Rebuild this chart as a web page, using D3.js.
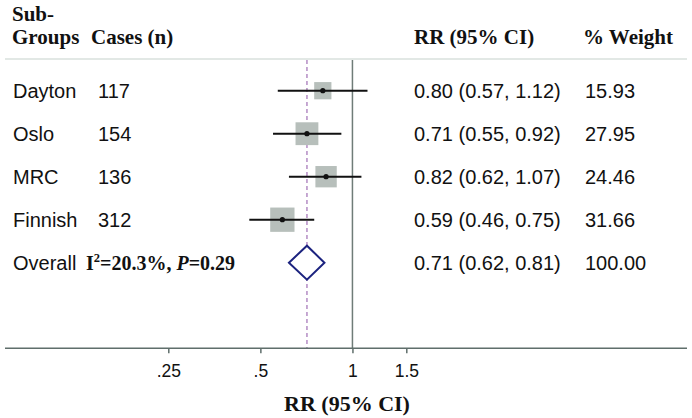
<!DOCTYPE html>
<html>
<head>
<meta charset="utf-8">
<script src="https://cdn.jsdelivr.net/npm/d3@7"></script>
<style>
  html, body { margin: 0; padding: 0; background: #fff; }
  svg { display: block; }
</style>
</head>
<body>
<svg id="chart" width="692" height="418"></svg>
<script>
// ---- data ----
const studies = ["Dayton", "Oslo", "MRC", "Finnish"];
const cases = ["117", "154", "136", "312"];
const rr = [0.80, 0.71, 0.82, 0.59];
const ciLow = [0.57, 0.55, 0.62, 0.46];
const ciHigh = [1.12, 0.92, 1.07, 0.75];
const weights = [15.93, 27.95, 24.46, 31.66];
const rrLabels = ["0.80 (0.57, 1.12)", "0.71 (0.55, 0.92)", "0.82 (0.62, 1.07)", "0.59 (0.46, 0.75)"];
const weightLabels = ["15.93", "27.95", "24.46", "31.66"];
const overallRR = 0.71, overallLow = 0.62, overallHigh = 0.81;
const overallLabel = "0.71 (0.62, 0.81)";
const overallWeight = "100.00";
const tickValues = [0.25, 0.5, 1, 1.5];
const tickLabels = [".25", ".5", "1", "1.5"];

// ---- layout ----
const svg = d3.select("#chart");
const x = d3.scaleLog().base(2).domain([0.25, 1.5]).range([168.3, 406.3]);
const y = d3.scaleLinear().domain([0, 4]).range([90.7, 262.7]);
const side = d3.scaleSqrt().domain([0, 31.66]).range([0, 24.3]);
const axisY = 348.3;
const plotTop = 60;
const serif = "'Liberation Serif', 'Times New Roman', serif";
const sans = "'Liberation Sans', Arial, sans-serif";
const txt = "#111";

// header
const hdr = svg.append("g").attr("font-family", serif).attr("font-weight", "bold")
  .attr("font-size", 21).attr("fill", txt);
hdr.append("text").attr("x", 12).attr("y", 21).text("Sub-");
hdr.append("text").attr("x", 12).attr("y", 44).text("Groups");
hdr.append("text").attr("x", 91).attr("y", 44).text("Cases (n)");
hdr.append("text").attr("x", 414).attr("y", 44).text("RR (95% CI)");
hdr.append("text").attr("x", 583).attr("y", 44).text("% Weight");

svg.append("line").attr("x1", 5).attr("x2", 687).attr("y1", 59).attr("y2", 59)
  .attr("stroke", "#d8e0dc").attr("stroke-width", 1.5);

// reference lines
svg.append("line").attr("x1", x(1)).attr("x2", x(1)).attr("y1", plotTop).attr("y2", axisY)
  .attr("stroke", "#6f7c78").attr("stroke-width", 1.5);
svg.append("line").attr("x1", x(overallRR)).attr("x2", x(overallRR)).attr("y1", plotTop).attr("y2", axisY)
  .attr("stroke", "#b48cc4").attr("stroke-width", 1.5).attr("stroke-dasharray", "4,3");

// study rows
const rows = svg.append("g");
studies.forEach((s, i) => {
  const cy = y(i);
  const w = side(weights[i]);
  rows.append("rect").attr("x", x(rr[i]) - w / 2).attr("y", cy - w / 2)
    .attr("width", w).attr("height", w).attr("fill", "#b7bfbb");
  rows.append("line").attr("x1", x(ciLow[i])).attr("x2", x(ciHigh[i]))
    .attr("y1", cy).attr("y2", cy).attr("stroke", "#111").attr("stroke-width", 2);
  rows.append("circle").attr("cx", x(rr[i])).attr("cy", cy).attr("r", 2.6).attr("fill", "#111");
  const g = rows.append("g").attr("font-family", sans).attr("font-size", 20).attr("fill", txt);
  g.append("text").attr("x", 13).attr("y", cy + 7.5).text(s);
  g.append("text").attr("x", 98).attr("y", cy + 7.5).text(cases[i]);
  g.append("text").attr("x", 414).attr("y", cy + 7.5).text(rrLabels[i]);
  g.append("text").attr("x", 585).attr("y", cy + 7.5).text(weightLabels[i]);
});

// overall
const oy = y(4);
const dh = 17;
svg.append("path")
  .attr("d", `M${x(overallLow)},${oy} L${x(overallRR)},${oy - dh} L${x(overallHigh)},${oy} L${x(overallRR)},${oy + dh} Z`)
  .attr("fill", "#fff").attr("stroke", "#1c237f").attr("stroke-width", 2);
const og = svg.append("g").attr("fill", txt);
og.append("text").attr("x", 13).attr("y", oy + 7.5).attr("font-family", sans).attr("font-size", 20).text("Overall");
const het = og.append("text").attr("x", 86).attr("y", oy + 7.5).attr("font-family", serif)
  .attr("font-weight", "bold").attr("font-size", 20);
het.append("tspan").text("I");
het.append("tspan").attr("font-size", 12.5).attr("dy", -8).text("2");
het.append("tspan").attr("dy", 8).text("=20.3%, ");
het.append("tspan").attr("font-style", "italic").text("P");
het.append("tspan").text("=0.29");
og.append("text").attr("x", 414).attr("y", oy + 7.5).attr("font-family", sans).attr("font-size", 20).text(overallLabel);
og.append("text").attr("x", 585).attr("y", oy + 7.5).attr("font-family", sans).attr("font-size", 20).text(overallWeight);

// axis
svg.append("line").attr("x1", 5).attr("x2", 687).attr("y1", axisY).attr("y2", axisY)
  .attr("stroke", "#5f6e6b").attr("stroke-width", 1.5);
const axis = d3.axisBottom(x).tickValues(tickValues).tickSize(5)
  .tickFormat((d, i) => tickLabels[i]);
const ag = svg.append("g").attr("transform", `translate(0,${axisY})`).call(axis)
  .attr("font-family", sans).attr("font-size", 17.5);
ag.select(".domain").remove();
ag.selectAll(".tick line").attr("stroke", "#5f6e6b").attr("stroke-width", 1.5);
ag.selectAll(".tick text").style("font-family", sans).style("font-size", "17.5px")
  .attr("fill", txt).attr("dy", null).attr("y", 28.5);

svg.append("text").attr("x", 347).attr("y", 410.5).attr("text-anchor", "middle")
  .attr("font-family", serif).attr("font-weight", "bold").attr("font-size", 22)
  .attr("fill", txt).text("RR (95% CI)");
</script>
</body>
</html>
